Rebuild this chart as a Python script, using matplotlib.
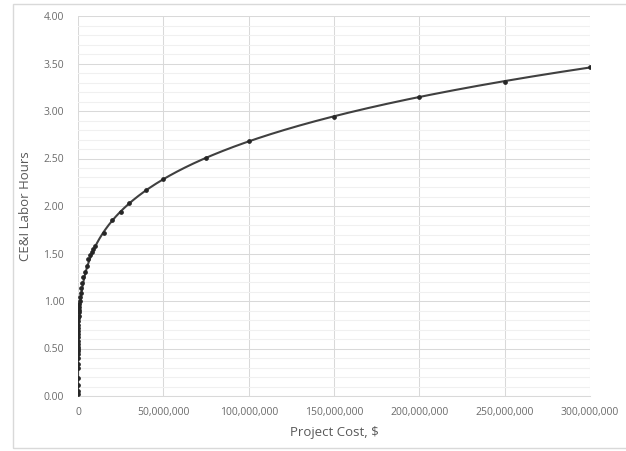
import numpy as np
import matplotlib
matplotlib.use("Agg")
import matplotlib.pyplot as plt
from matplotlib.patches import Rectangle
from matplotlib.ticker import FuncFormatter, MultipleLocator

# Project cost ($) and CE&I labor hours per project
project_cost = [
    500, 1000, 2000, 3000, 5000, 7500, 10000, 15000, 20000, 25000,
    30000, 40000, 50000, 60000, 75000, 100000, 125000, 150000, 200000,
    250000, 300000, 400000, 500000, 600000, 750000, 1000000, 1250000,
    1500000, 2000000, 2500000, 3000000, 4000000, 5000000, 6000000,
    7000000, 8000000, 9000000, 10000000, 15000000, 20000000, 25000000,
    30000000, 40000000, 50000000, 75000000, 100000000, 150000000,
    200000000, 250000000, 300000000,
]
labor_hours = [
    0.02, 0.05, 0.12, 0.19, 0.30, 0.34, 0.40, 0.44, 0.47, 0.49,
    0.52, 0.55, 0.58, 0.62, 0.65, 0.68, 0.72, 0.75, 0.79,
    0.82, 0.84, 0.88, 0.91, 0.94, 0.97, 1.00, 1.04,
    1.08, 1.14, 1.19, 1.25, 1.31, 1.37, 1.44,
    1.48, 1.52, 1.55, 1.58, 1.72, 1.85, 1.94,
    2.03, 2.17, 2.28, 2.51, 2.68, 2.94,
    3.15, 3.31, 3.46,
]

x_ticks = [0, 50e6, 100e6, 150e6, 200e6, 250e6, 300e6]

cost = np.array(project_cost, dtype=float)
hours = np.array(labor_hours, dtype=float)

# Power-law trendline fitted in log space on the larger projects
sel = cost >= 15e6
b, log_a = np.polyfit(np.log(cost[sel]), np.log(hours[sel]), 1)
xt = np.linspace(1, 300e6, 6000)
yt = np.exp(log_a) * xt ** b

W, H = 626, 451
fig = plt.figure(figsize=(W / 100, H / 100), dpi=100)
fig.patch.set_facecolor("white")

# chart border
fig.patches.append(Rectangle((13 / W, 1 - 448 / H), 700 / W, 444 / H,
                             transform=fig.transFigure, fill=False,
                             edgecolor="#d9d9d9", linewidth=1.0))

ax = fig.add_axes([78 / W, 1 - 396 / H, (590 - 78) / W, (396 - 16) / H])
ax.set_xlim(0, 300e6)
ax.set_ylim(0, 4.0)

ax.yaxis.set_major_locator(MultipleLocator(0.5))
ax.yaxis.set_minor_locator(MultipleLocator(0.1))
ax.set_xticks(x_ticks)
ax.grid(which="major", axis="both", color="#d9d9d9", linewidth=0.75)
ax.grid(which="minor", axis="y", color="#f0f0f0", linewidth=0.75)
ax.set_axisbelow(True)
for s in ax.spines.values():
    s.set_visible(False)
ax.spines["bottom"].set_visible(True)
ax.spines["bottom"].set_color("#d9d9d9")
ax.spines["bottom"].set_linewidth(0.75)

ax.tick_params(which="both", length=0, colors="#6b6b6b", labelsize=7.5)
ax.tick_params(axis="x", pad=8)
ax.tick_params(axis="y", pad=10)
ax.xaxis.set_major_formatter(FuncFormatter(lambda v, p: f"{v:,.0f}"))
ax.yaxis.set_major_formatter(FuncFormatter(lambda v, p: f"{v:.2f}"))
for lab in ax.get_xticklabels() + ax.get_yticklabels():
    lab.set_fontfamily("Open Sans")

ax.plot(xt, yt, color="#404040", linewidth=1.5, zorder=3)
ax.plot(cost, hours, linestyle="none", marker="o", markersize=2.4,
        color="#262626", zorder=4)

ax.set_xlabel("Project Cost, $", fontsize=9.5, color="#595959",
              family="Open Sans", labelpad=6)
ax.set_ylabel("CE&I Labor Hours", fontsize=9.5, color="#595959",
              family="Open Sans", labelpad=8)

fig.savefig("out.png", dpi=100, facecolor="white")
